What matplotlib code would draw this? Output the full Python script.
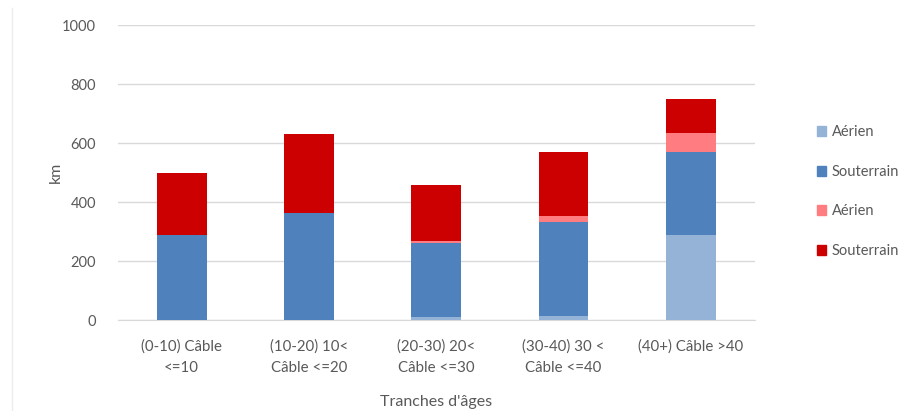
import matplotlib.pyplot as plt
import numpy as np
from matplotlib.lines import Line2D

categories = ['(0-10) Câble\n<=10', '(10-20) 10<\nCâble <=20', '(20-30) 20<\nCâble <=30',
              '(30-40) 30 <\nCâble <=40', '(40+) Câble >40']
aerien_1 = [0, 0, 12, 15, 288]
souterrain_1 = [290, 362, 250, 317, 282]
aerien_2 = [0, 0, 5, 22, 64]
souterrain_2 = [210, 268, 190, 216, 115]

series = [('Aérien', aerien_1, '#95B3D7'),
          ('Souterrain', souterrain_1, '#4F81BD'),
          ('Aérien', aerien_2, '#FF7C80'),
          ('Souterrain', souterrain_2, '#CC0000')]

plt.rcParams['font.family'] = ['Lato', 'DejaVu Sans']
fig = plt.figure(figsize=(9.08, 4.11), dpi=100)
ax = fig.add_axes([0.130, 0.221, 0.701, 0.718])

x = np.arange(len(categories))
bottom = np.zeros(len(categories))
handles = []
for name, vals, col in series:
    ax.bar(x, vals, width=0.39, bottom=bottom, color=col, zorder=3)
    bottom += np.array(vals)
    handles.append(plt.Rectangle((0, 0), 1, 1, color=col, label=name))

ax.set_xlim(-0.5, 4.5)
ax.set_ylim(0, 1000)
ax.set_yticks(range(0, 1001, 200))
ax.set_xticks(x)
ax.set_xticklabels(categories, fontsize=10.8, color='#595959', linespacing=1.6)
ax.tick_params(axis='y', labelsize=10.5, labelcolor='#595959', length=0, pad=16)
ax.tick_params(axis='x', length=0, pad=14)
ax.grid(axis='y', color='#D9D9D9', linewidth=1, zorder=0)
for s in ['top', 'right', 'left']:
    ax.spines[s].set_visible(False)
ax.spines['bottom'].set_color('#D9D9D9')

ax.set_ylabel('km', fontsize=11.5, color='#595959', labelpad=-1)
ax.set_xlabel("Tranches d'âges", fontsize=11.5, color='#595959', labelpad=15)

leg = fig.legend(handles=handles, loc='upper left', bbox_to_anchor=(0.885, 0.727),
                 frameon=False, fontsize=10.5, handlelength=0.65, handleheight=0.65,
                 handletextpad=0.4, labelspacing=1.75, labelcolor='#595959')

fig.add_artist(Line2D([12 / 908, 12 / 908], [0, 403 / 411], color='#EDEDED', linewidth=1))

fig.savefig('out.png', dpi=100)
